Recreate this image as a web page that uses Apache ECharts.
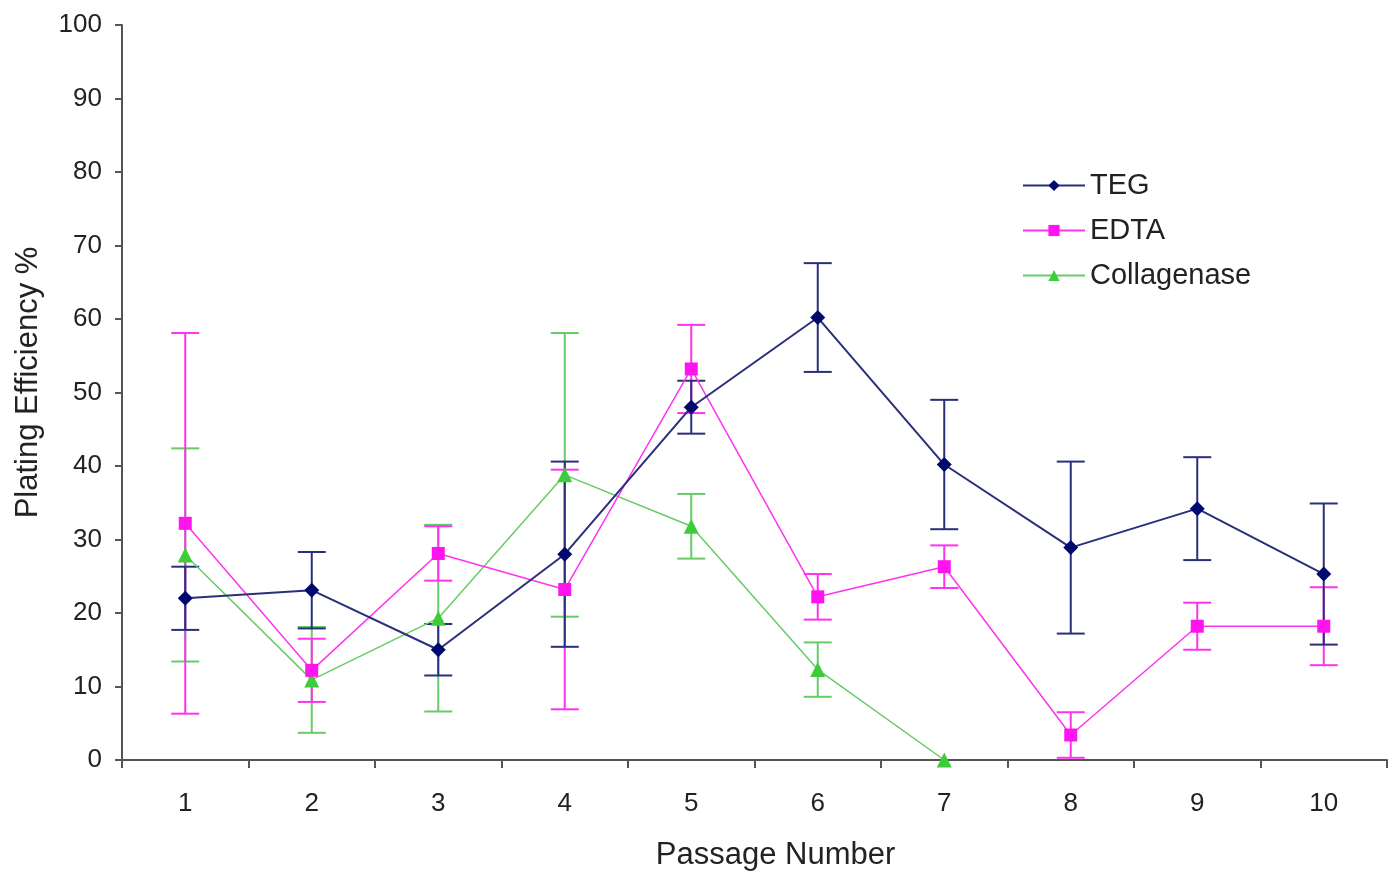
<!DOCTYPE html>
<html>
<head>
<meta charset="utf-8">
<script src="https://cdn.jsdelivr.net/npm/echarts@6/dist/echarts.min.js"></script>
<style>
html,body{margin:0;padding:0;background:#fff;}
#main{width:1393px;height:873px;}
</style>
</head>
<body>
<div id="main"></div>
<script>
const categories = ['1','2','3','4','5','6','7','8','9','10'];
const yTicks = [0,10,20,30,40,50,60,70,80,90,100];
const tegValues  = [22, 23.1, 15, 28, 48, 60.2, 40.2, 28.9, 34.2, 25.3];
const tegErrors  = [4.3, 5.2, 3.5, 12.6, 3.6, 7.4, 8.8, 11.7, 7, 9.6];
const edtaValues = [32.2, 12.2, 28.1, 23.2, 53.2, 22.2, 26.3, 3.4, 18.2, 18.2];
const edtaErrors = [25.9, 4.3, 3.7, 16.3, 6, 3.1, 2.9, 3.1, 3.2, 5.3];
const collValues = [27.9, 10.9, 19.3, 38.8, 31.8, 12.3, 0, null, null, null];
const collErrors = [14.5, 7.2, 12.7, 19.3, 4.4, 3.7, 0, null, null, null];

const colors = {TEG:'#000a6e', EDTA:'#ff14f0', Collagenase:'#3ccc3c'};
const lineColors = {TEG:'#2a2f7a', EDTA:'#ff33ee', Collagenase:'#66cc66'};

function errorData(vals, errs){
  const out = [];
  vals.forEach((v,i)=>{ if(v!=null && errs[i]) out.push([i, v-errs[i], v+errs[i]]); });
  return out;
}
function errorSeries(name, vals, errs){
  return {
    type:'custom', name: name+' err', silent:true, z:2,
    data: errorData(vals, errs),
    encode:{x:0, y:[1,2]},
    renderItem: function(params, api){
      const x = api.value(0);
      const lo = api.coord([x, api.value(1)]);
      const hi = api.coord([x, api.value(2)]);
      const hw = 14;
      const style = {stroke: lineColors[name], lineWidth: 2, fill:null};
      return {type:'group', children:[
        {type:'line', shape:{x1:lo[0],y1:lo[1],x2:hi[0],y2:hi[1]}, style},
        {type:'line', shape:{x1:lo[0]-hw,y1:lo[1],x2:lo[0]+hw,y2:lo[1]}, style},
        {type:'line', shape:{x1:hi[0]-hw,y1:hi[1],x2:hi[0]+hw,y2:hi[1]}, style}
      ]};
    }
  };
}
function lineSeries(name, vals, symbol, size, width){
  return {
    type:'line', name, data: vals, symbol, symbolSize: size, z:3,
    itemStyle:{color: colors[name]},
    lineStyle:{color: lineColors[name], width},
    connectNulls:false
  };
}

const chart = echarts.init(document.getElementById('main'));
chart.setOption({
  backgroundColor:'#fff',
  animation:false,
  grid:{left:122, right:6, top:25, bottom:113, containLabel:false, outerBoundsMode:'none'},
  legend:{
    orient:'vertical', left:1017, top:166, itemGap:16,
    itemWidth:62, itemHeight:14,
    textStyle:{fontFamily:'Liberation Sans, Arial', fontSize:29, color:'#222'},
    data:['TEG','EDTA','Collagenase']
  },
  xAxis:{
    type:'category', data: categories, boundaryGap:true,
    name:'Passage Number', nameLocation:'middle', nameGap:80,
    nameTextStyle:{fontFamily:'Liberation Sans, Arial', fontSize:31, color:'#222', padding:[0,0,0,42]},
    axisLine:{lineStyle:{color:'#555', width:2}},
    axisTick:{show:true, length:8, lineStyle:{color:'#555', width:2}},
    axisLabel:{fontFamily:'Liberation Sans, Arial', fontSize:26, color:'#222', margin:31}
  },
  yAxis:{
    type:'value', min:0, max:100, interval:10,
    name:'Plating Efficiency %', nameLocation:'middle', nameGap:78,
    nameTextStyle:{fontFamily:'Liberation Sans, Arial', fontSize:31, color:'#222', padding:[0,0,0,20]},
    axisLine:{show:true, lineStyle:{color:'#555', width:2}},
    axisTick:{show:true, length:7, lineStyle:{color:'#555', width:2}},
    splitLine:{show:false},
    axisLabel:{fontFamily:'Liberation Sans, Arial', fontSize:26, color:'#222', margin:20,
      formatter: v => yTicks.includes(v) ? String(v) : ''}
  },
  series:[
    errorSeries('Collagenase', collValues, collErrors),
    errorSeries('EDTA', edtaValues, edtaErrors),
    errorSeries('TEG', tegValues, tegErrors),
    lineSeries('Collagenase', collValues, 'triangle', 15, 1.5),
    lineSeries('EDTA', edtaValues, 'rect', 13, 1.5),
    lineSeries('TEG', tegValues, 'diamond', 15, 2)
  ]
});
</script>
</body>
</html>
